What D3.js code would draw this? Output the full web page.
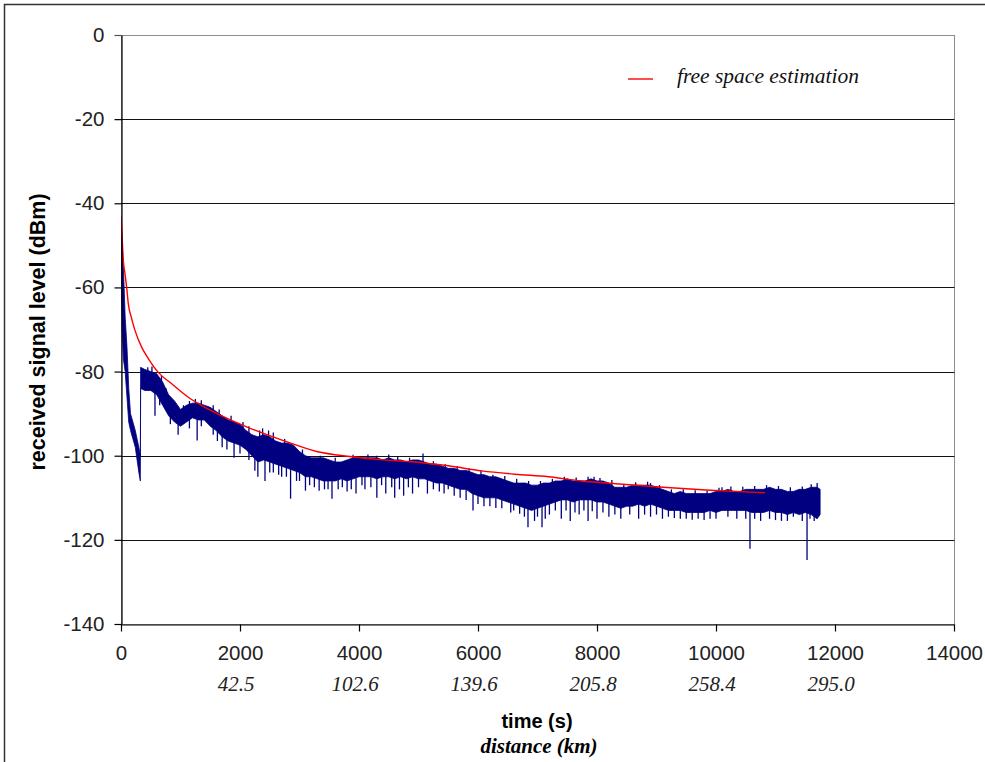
<!DOCTYPE html>
<html>
<head>
<meta charset="utf-8">
<script src="https://cdn.jsdelivr.net/npm/d3@7"></script>
<style>
  body { margin: 0; background: #fff; }
  svg { display: block; }
</style>
</head>
<body>
<div id="chart"></div>
<script>
// axis ticks
var yTicks = [0, -20, -40, -60, -80, -100, -120, -140];
var xTicks = [0, 2000, 4000, 6000, 8000, 10000, 12000, 14000];
var distTicks = [2000, 4000, 6000, 8000, 10000, 12000];
var distLabels = ["42.5", "102.6", "139.6", "205.8", "258.4", "295.0"];

// free space estimation (time s, dBm)
var freeSpace = [
  [0, -43], [20, -48.5], [39, -53.6], [67, -56.7], [95, -60], [123, -63.9],
  [179, -67.4], [235, -70.2], [347, -74.2], [459, -76.9], [627, -80.2],
  [852, -82.9], [1131, -86.1], [1412, -88.5], [1748, -90.9], [2140, -93.3],
  [2728, -96.4], [3289, -99], [3849, -100.2], [4410, -101], [5025, -101.6],
  [5501, -102.4], [6062, -103.6], [6622, -104.4], [7182, -105], [7743, -106],
  [8269, -106.6], [9109, -107.5], [9899, -108.2], [10823, -108.8]
];

// received signal: time, top of band, bottom of band
var signalBand = [
  [0, -44, -56], [20, -50, -70], [40, -55, -77], [70, -67, -80], [100, -74, -86],
  [130, -84, -92], [160, -90, -94], [200, -92, -96], [240, -94, -98], [270, -96, -101],
  [300, -98, -104], [325, -100, -106],
  [330, -79, -84], [400, -79.5, -84.5], [500, -80, -84.5], [600, -80.5, -85.5],
  [700, -82.5, -88], [800, -85.5, -90.5], [900, -87, -92], [1000, -89, -93],
  [1100, -88, -92], [1200, -87.5, -91], [1300, -87.5, -91.5], [1400, -88, -91.5],
  [1500, -88.5, -93], [1600, -89.5, -94], [1700, -90.5, -95.5], [1800, -91.5, -96.5],
  [1900, -92, -97], [2000, -92.5, -97.5], [2100, -94, -98.5], [2200, -95, -100],
  [2300, -95.5, -101.5], [2400, -95, -101], [2500, -95.5, -101.5], [2600, -96.5, -102],
  [2700, -97, -102.5], [2800, -97, -103], [2900, -97.5, -103.5], [3000, -99, -104],
  [3100, -100, -105], [3200, -100.5, -105], [3300, -100.5, -105.5], [3400, -100.5, -106],
  [3500, -101, -106], [3600, -101.5, -106], [3700, -101.5, -105.5], [3800, -101, -106],
  [3900, -100.5, -105.5], [4000, -100.5, -105], [4100, -100.5, -105], [4200, -100.5, -105],
  [4300, -100.5, -105.5], [4400, -101, -105], [4500, -100.5, -105], [4600, -101, -105.5],
  [4700, -101, -105], [4800, -101.5, -105.5], [4900, -101, -105], [5000, -101, -105.5],
  [5100, -101.5, -105.5], [5200, -102, -106], [5300, -102, -106.5], [5400, -102.5, -106.5],
  [5500, -103, -107], [5600, -103, -107.5], [5700, -103.5, -108], [5800, -103.5, -108],
  [5900, -104, -109], [6000, -104.5, -109.5], [6100, -104.5, -110], [6200, -105, -110],
  [6300, -105, -110], [6400, -105.5, -110.5], [6500, -106, -111], [6600, -106.5, -111.5],
  [6700, -106.5, -112], [6800, -106.5, -112.5], [6900, -107, -113], [7000, -107, -112.5],
  [7100, -106.5, -112], [7200, -106.5, -111.5], [7300, -106, -111], [7400, -106, -110.5],
  [7500, -105.5, -110.5], [7600, -106, -111], [7700, -106, -110.5], [7800, -106, -110.5],
  [7900, -105.5, -110.5], [8000, -106, -111], [8100, -106, -111], [8200, -106.5, -111.5],
  [8300, -107.5, -112], [8400, -107.5, -112.5], [8500, -107.5, -112], [8600, -107, -112],
  [8700, -107, -111.5], [8800, -107, -112], [8900, -107, -111.5], [9000, -107.5, -112],
  [9100, -108, -112.5], [9200, -108.5, -113], [9300, -109, -113], [9400, -108.5, -113],
  [9500, -109, -113.5], [9600, -109, -113.5], [9700, -109, -113.5], [9800, -109, -113.5],
  [9900, -109, -113], [10000, -108.5, -113.5], [10100, -108.5, -113], [10200, -108, -113],
  [10300, -108.5, -113], [10400, -108.5, -113], [10500, -108, -113], [10600, -108, -113.5],
  [10700, -108, -113.5], [10800, -108, -113.5], [10900, -107.5, -113], [11000, -108, -113.5],
  [11100, -108, -113.5], [11200, -108.5, -114], [11300, -108.5, -113.5], [11400, -108, -114],
  [11500, -108, -113.5], [11600, -107.5, -114], [11700, -107.5, -115], [11750, -108, -114]
];

// single samples sticking out of the band, downwards (time, dBm)
var spikesDown = [
  [571, -90.5], [650, -88], [830, -92.5], [960, -95], [1150, -93.5], [1280, -96.4],
  [1350, -93], [1550, -95], [1620, -96.5], [1700, -98], [1780, -98.5], [1900, -100.5],
  [2000, -99.5], [2150, -101], [2250, -103.6], [2300, -105], [2420, -106], [2500, -104],
  [2560, -104], [2650, -104.5], [2700, -105], [2780, -105], [2850, -110.2], [2950, -106],
  [3000, -106], [3100, -108.3], [3170, -107], [3250, -107.5], [3330, -108.3], [3420, -108],
  [3480, -108], [3546, -110.2], [3650, -108], [3720, -107.5], [3800, -108.5], [3870, -108],
  [3950, -109], [4050, -107], [4100, -108], [4200, -107.5], [4300, -110], [4380, -107],
  [4450, -109], [4550, -107.5], [4600, -110], [4680, -108], [4750, -109.5], [4830, -107.5],
  [4900, -109], [5000, -107.5], [5150, -109], [5250, -108], [5350, -108.5], [5430, -109],
  [5500, -108], [5600, -109.5], [5700, -110], [5800, -110.5], [5916, -113], [6000, -111.5],
  [6100, -112], [6200, -112], [6300, -112.4], [6400, -112.5], [6550, -113.5], [6600, -113],
  [6700, -113.8], [6780, -114.5], [6840, -117], [6950, -115.5], [7000, -114.5], [7076, -117],
  [7130, -115], [7200, -114], [7300, -113], [7400, -115], [7480, -113], [7550, -115.5],
  [7630, -113.5], [7700, -114], [7780, -113], [7850, -115.5], [7920, -113.2], [8000, -115],
  [8100, -113.5], [8200, -114.5], [8300, -114], [8400, -115], [8550, -114], [8700, -115],
  [8800, -114], [8900, -114.5], [9000, -114], [9100, -115], [9200, -114.5], [9300, -114.8],
  [9400, -115], [9500, -115], [9600, -115.2], [9700, -115], [9800, -115.3], [9900, -115],
  [10000, -115], [10200, -114.5], [10350, -115], [10500, -115], [10571, -122.1], [10650, -115],
  [10750, -115.5], [10900, -115], [11000, -115.3], [11100, -115.5], [11200, -115.5],
  [11300, -114.5], [11450, -115.5], [11530, -124.8], [11580, -115], [11650, -115.5]
];

// single samples sticking out of the band, upwards (time, dBm)
var spikesUp = [
  [450, -79], [520, -78.8], [680, -81], [760, -84], [1050, -88], [1150, -87], [1250, -86.5],
  [1350, -86.8], [1550, -88], [1650, -89], [1850, -90.5], [2050, -92], [2150, -93],
  [2330, -94], [2380, -93.5], [2480, -94], [2560, -94.5], [2750, -96], [3050, -98.5],
  [3350, -100], [3600, -100.5], [3900, -99.8], [4150, -99.7], [4300, -100], [4500, -99.7],
  [4650, -100.3], [4850, -100.5], [5076, -99.5], [5250, -101.3], [5450, -102], [5650, -102.5],
  [5850, -103], [6050, -103.5], [6250, -104.5], [6450, -104.8], [6650, -105.5], [6850, -106],
  [7050, -106], [7250, -105.5], [7450, -105], [7650, -105.2], [7850, -105], [7950, -105],
  [8050, -105.3], [8250, -105.8], [8450, -106.8], [8650, -106.3], [8850, -106.2],
  [8900, -106.5], [9050, -107], [9250, -108], [9450, -108], [9650, -108.2], [9850, -108.3],
  [10050, -107.6], [10100, -107.5], [10250, -107.3], [10450, -107.4], [10650, -107.2],
  [10850, -107], [11050, -107.2], [11250, -107.5], [11450, -107.3], [11600, -106.8],
  [11700, -106.5]
];

var W = 985, H = 762;
var plotL = 121, plotR = 954, plotT = 35, plotB = 624;

var svg = d3.select("#chart").append("svg").attr("width", W).attr("height", H);

// outer chart border
svg.append("rect")
  .attr("x", 4.5).attr("y", 4.5).attr("width", 1000).attr("height", 800)
  .attr("fill", "#fff").attr("stroke", "#333").attr("stroke-width", 1.5);

var x_scale = d3.scaleLinear().domain([0, 14000]).range([plotL, plotR]);
var y_scale = d3.scaleLinear().domain([-140, 0]).range([plotB, plotT]);

// plot frame + gridlines
svg.append("rect")
  .attr("x", plotL + 0.5).attr("y", plotT + 0.5)
  .attr("width", plotR - plotL).attr("height", plotB - plotT)
  .attr("fill", "none").attr("stroke", "#8c8c8c");
svg.append("g").selectAll("line")
  .data(yTicks.filter(function (d) { return d < 0 && d > -140; }))
  .enter().append("line")
  .attr("x1", plotL).attr("x2", plotR + 0.5)
  .attr("y1", function (d) { return Math.round(y_scale(d)) + 0.5; })
  .attr("y2", function (d) { return Math.round(y_scale(d)) + 0.5; })
  .attr("stroke", "#111").attr("stroke-width", 1.2);

svg.append("clipPath").attr("id", "plotclip").append("rect")
  .attr("x", plotL).attr("y", plotT).attr("width", plotR - plotL).attr("height", plotB - plotT);
var plot = svg.append("g").attr("clip-path", "url(#plotclip)");

// received signal band
var band = d3.area()
  .x(function (d) { return x_scale(d[0]); })
  .y0(function (d) { return y_scale(d[2]); })
  .y1(function (d) { return y_scale(d[1]); });
plot.append("path")
  .datum(signalBand)
  .attr("d", band)
  .attr("fill", "#000080").attr("stroke", "#000080").attr("stroke-width", 0.8)
  .attr("stroke-linejoin", "bevel");

// spikes start at the middle of the nearest band sample
var bis = d3.bisector(function (d) { return d[0]; }).center;
function bandMid(t) {
  var s = signalBand[bis(signalBand, t)];
  return y_scale((s[1] + s[2]) / 2);
}
plot.append("g").selectAll("line")
  .data(spikesDown.concat(spikesUp))
  .enter().append("line")
  .attr("x1", function (d) { return x_scale(d[0]); })
  .attr("x2", function (d) { return x_scale(d[0]); })
  .attr("y1", function (d) { return bandMid(d[0]); })
  .attr("y2", function (d) { return y_scale(d[1]); })
  .attr("stroke", "#000080").attr("stroke-width", 1.3);

// free space estimation
plot.append("path")
  .datum(freeSpace)
  .attr("d", d3.line()
    .x(function (d) { return x_scale(d[0]); })
    .y(function (d) { return y_scale(d[1]); })
    .curve(d3.curveMonotoneX))
  .attr("fill", "none").attr("stroke", "#ff0000").attr("stroke-width", 1.4);

// axes
var y_axis = d3.axisLeft(y_scale).tickValues(yTicks).tickSize(7).tickSizeOuter(0).tickPadding(10)
  .tickFormat(function (d) { return String(d); });
var x_axis = d3.axisBottom(x_scale).tickValues(xTicks).tickSize(7).tickSizeOuter(0).tickPadding(14)
  .tickFormat(function (d) { return String(d); });

var gy = svg.append("g").attr("transform", "translate(" + (plotL + 0.5) + ",0)").call(y_axis);
var gx = svg.append("g").attr("transform", "translate(0," + (plotB + 0.5) + ")").call(x_axis);
[gx, gy].forEach(function (g) {
  g.selectAll("path, line").attr("stroke", "#000").attr("stroke-width", 1.2);
  g.selectAll("text")
    .attr("fill", "#222")
    .style("font-family", "'Liberation Sans', Arial, sans-serif")
    .style("font-size", "20.5px");
});
gy.selectAll(".tick").filter(function (d) { return d === 0; }).select("line").attr("stroke", "#555");

// distance labels under the time ticks
svg.append("g").selectAll("text")
  .data(distTicks)
  .enter().append("text")
  .attr("x", function (d) { return x_scale(d) - 4; })
  .attr("y", 691)
  .attr("text-anchor", "middle")
  .style("font-family", "'Liberation Serif', 'Times New Roman', serif")
  .style("font-style", "italic")
  .style("font-size", "21px")
  .attr("fill", "#222")
  .text(function (d, i) { return distLabels[i]; });

// axis titles
svg.append("text")
  .attr("x", 537).attr("y", 728)
  .attr("text-anchor", "middle")
  .style("font-family", "'Liberation Sans', Arial, sans-serif")
  .style("font-weight", "bold").style("font-size", "20px")
  .text("time (s)");
svg.append("text")
  .attr("x", 539).attr("y", 753)
  .attr("text-anchor", "middle")
  .style("font-family", "'Liberation Serif', 'Times New Roman', serif")
  .style("font-weight", "bold").style("font-style", "italic").style("font-size", "21px")
  .text("distance (km)");
svg.append("text")
  .attr("transform", "translate(45,332) rotate(-90)")
  .attr("text-anchor", "middle")
  .style("font-family", "'Liberation Sans', Arial, sans-serif")
  .style("font-weight", "bold").style("font-size", "21.5px")
  .text("received signal level (dBm)");

// legend
svg.append("line")
  .attr("x1", 628).attr("x2", 653).attr("y1", 79).attr("y2", 79)
  .attr("stroke", "#ff0000").attr("stroke-width", 1.4);
svg.append("text")
  .attr("x", 677).attr("y", 83)
  .style("font-family", "'Liberation Serif', 'Times New Roman', serif")
  .style("font-style", "italic").style("font-size", "21.5px")
  .attr("fill", "#111")
  .text("free space estimation");
</script>
</body>
</html>
